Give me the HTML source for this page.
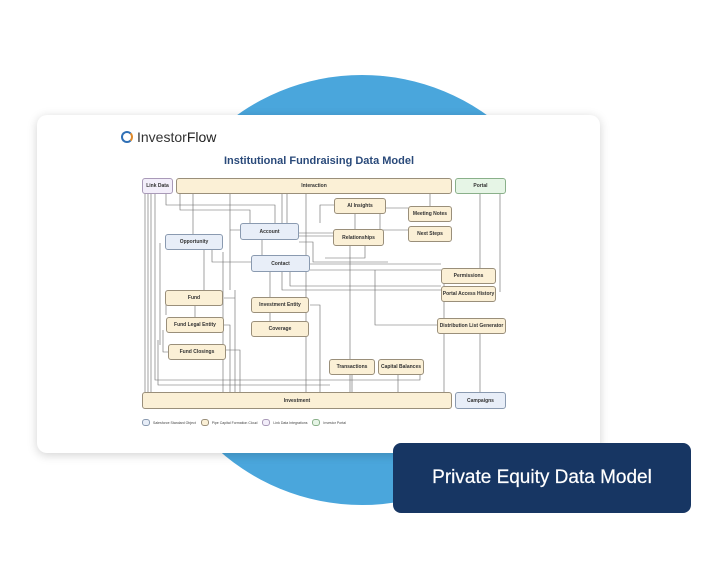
<!DOCTYPE html>
<html><head><style>
body{margin:0;width:728px;height:570px;background:#fff;position:relative;overflow:hidden;font-family:"Liberation Sans",sans-serif}
.circ{position:absolute;left:147px;top:75px;width:430px;height:430px;border-radius:50%;background:#4aa6dc}
.card{position:absolute;left:37px;top:115px;width:563px;height:338px;background:#fff;border-radius:10px;box-shadow:0 2px 10px rgba(0,0,0,.18)}
.b{position:absolute;border:0.8px solid #9a8f7a;border-radius:3px;font-size:5px;font-weight:bold;color:#333;display:flex;align-items:center;justify-content:center;box-sizing:border-box}
.c{background:#fbf0d6}.s{background:#e8eef8;border-color:#8a9ab0}.l{background:#f3eefa;border-color:#a99ab8}.g{background:#e6f5e6;border-color:#8ab08a}
.dark{position:absolute;left:393px;top:443px;width:298px;height:70px;background:#173663;border-radius:8px;color:#fff;font-size:19px;display:flex;align-items:center;justify-content:center;-webkit-text-stroke:0.2px #fff}
svg{position:absolute;left:0;top:0}
</style></head><body>
<div class="circ"></div>
<div class="card"></div>
<div style="position:absolute;left:121px;top:129px;font-size:14px;color:#333;display:flex;align-items:center"><span style="display:inline-block;width:8px;height:8px;border:2.2px solid #2f6fb5;border-right-color:#e08a2a;border-radius:50%;margin-right:4px"></span>Investor<span style="color:#222">Flow</span></div>
<div style="position:absolute;left:0;width:638px;top:155px;text-align:center;font-size:11px;font-weight:bold;color:#2a4a7a">Institutional Fundraising Data Model</div>
<svg width="728" height="570" fill="none" stroke="#666" stroke-width="0.6">
<path d="M145 193V392M148 193V392M151 193V392M155 193V380H330M166 193V205H275V223M180 193V210H250V232M193 193V234M230 193V290M287 193V223M306 193V400M430 193V206M282 193V223M335 205H320V223M385 208H408M380 214V230H408M355 214V229M262 240V255M240 230H230V262H310M299 233H333M299 236H350V392M299 242H313V262H388M204 250V290M212 250V262H251M223 252V392M310 264H441M310 270H441M282 272V290H441M290 272V286H441M365 246V258H325M160 243V345M166 298V315M195 306V317M163 330V352H168M224 298H235V392M224 325H230V392M226 350H240V392M235 290V392M209 380H420V375M352 375V392M398 375V392M310 305H320V392M270 270V325M480 193V268M500 193V292M480 334V392M444 270V392M375 270V325H437M158 340V385H330"/>
</svg>
<div class="b l" style="left:142px;top:178px;width:31px;height:16px">Link Data</div>
<div class="b c" style="left:176px;top:178px;width:276px;height:16px">Interaction</div>
<div class="b g" style="left:455px;top:178px;width:51px;height:16px">Portal</div>
<div class="b c" style="left:334px;top:198px;width:52px;height:16px">AI Insights</div>
<div class="b c" style="left:408px;top:206px;width:44px;height:16px">Meeting Notes</div>
<div class="b c" style="left:408px;top:226px;width:44px;height:16px">Next Steps</div>
<div class="b s" style="left:240px;top:223px;width:59px;height:17px">Account</div>
<div class="b c" style="left:333px;top:229px;width:51px;height:17px">Relationships</div>
<div class="b s" style="left:165px;top:234px;width:58px;height:16px">Opportunity</div>
<div class="b s" style="left:251px;top:255px;width:59px;height:17px">Contact</div>
<div class="b c" style="left:441px;top:268px;width:55px;height:16px">Permissions</div>
<div class="b c" style="left:441px;top:286px;width:55px;height:16px">Portal Access History</div>
<div class="b c" style="left:165px;top:290px;width:58px;height:16px">Fund</div>
<div class="b c" style="left:251px;top:297px;width:58px;height:16px">Investment Entity</div>
<div class="b c" style="left:166px;top:317px;width:58px;height:16px">Fund Legal Entity</div>
<div class="b c" style="left:251px;top:321px;width:58px;height:16px">Coverage</div>
<div class="b c" style="left:437px;top:318px;width:69px;height:16px">Distribution List Generator</div>
<div class="b c" style="left:168px;top:344px;width:58px;height:16px">Fund Closings</div>
<div class="b c" style="left:329px;top:359px;width:46px;height:16px">Transactions</div>
<div class="b c" style="left:378px;top:359px;width:46px;height:16px">Capital Balances</div>
<div class="b c" style="left:142px;top:392px;width:310px;height:17px">Investment</div>
<div class="b s" style="left:455px;top:392px;width:51px;height:17px">Campaigns</div>
<div style="position:absolute;left:142px;top:419px;font-size:3.5px;color:#444;display:flex;align-items:center;gap:3px">
<span class="b s" style="position:static;width:8px;height:7px"></span>Salesforce Standard Object&nbsp;&nbsp;
<span class="b c" style="position:static;width:8px;height:7px"></span>Pipe Capital Formation Cloud&nbsp;&nbsp;
<span class="b l" style="position:static;width:8px;height:7px"></span>Link Data Integrations&nbsp;&nbsp;
<span class="b g" style="position:static;width:8px;height:7px"></span>Investor Portal</div>
<div class="dark">Private Equity Data Model</div>
</body></html>
